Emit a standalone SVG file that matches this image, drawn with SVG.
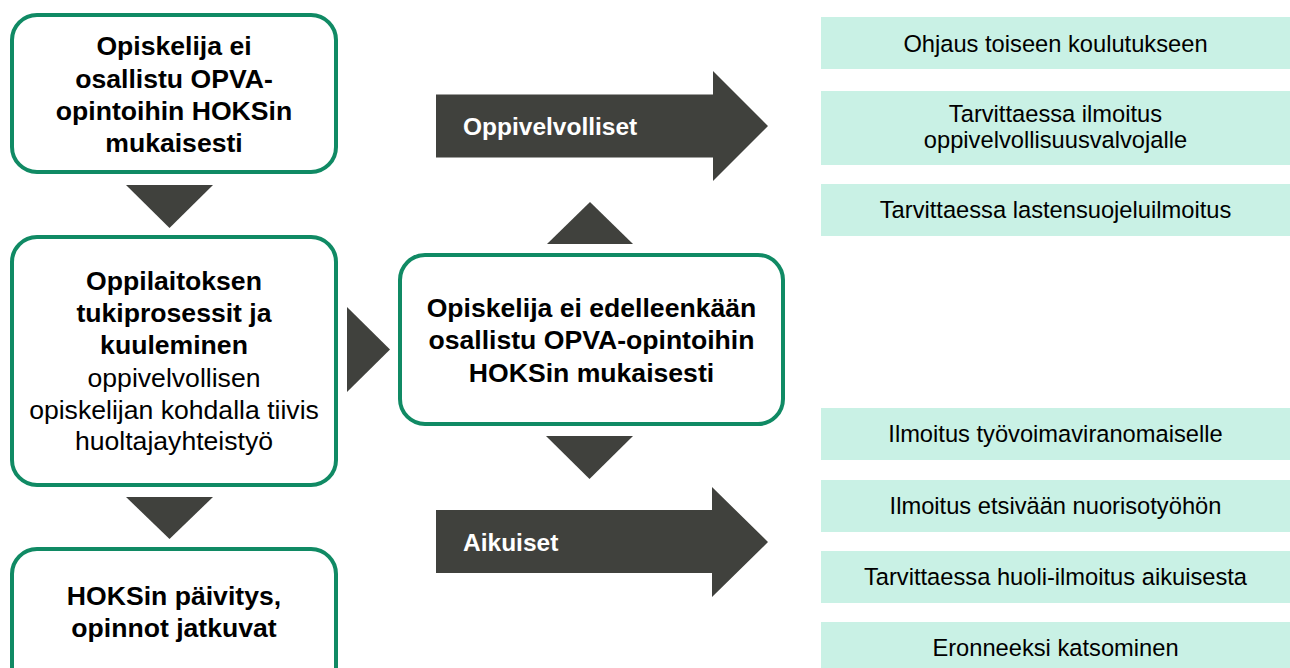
<svg xmlns="http://www.w3.org/2000/svg" width="1290" height="668" viewBox="0 0 1290 668">
<style>
.box{fill:#ffffff;stroke:#108A64;stroke-width:4}
.mint{fill:#C9F1E5}
.dark{fill:#40413D}
text{font-family:"Liberation Sans",Arial,sans-serif;text-anchor:middle;fill:#000000}
.b{font-weight:bold;font-size:26.6px}
.n{font-size:26.6px}
.r{font-size:23.7px}
.al{font-weight:bold;font-size:24.5px;fill:#ffffff;text-anchor:start}
</style>
<rect width="1290" height="668" fill="#ffffff"/>
<g id="connectors">
<polygon class="dark" points="126,185 213,185 169.5,228"/>
<polygon class="dark" points="126,497 213,497 169.5,539"/>
<polygon class="dark" points="347,307 390,349.5 347,392"/>
<polygon class="dark" points="547,244 633,244 590,202"/>
<polygon class="dark" points="546,436 633,436 589.5,479"/>
<g id="arrow-oppivelvolliset">
<polygon class="dark" points="436,94.5 713,94.5 713,71 768,126 713,181 713,157.5 436,157.5"/>
<text class="al" x="463" y="135">Oppivelvolliset</text>
</g>
<g id="arrow-aikuiset">
<polygon class="dark" points="436,510 712,510 712,487 768,542 712,597 712,573 436,573"/>
<text class="al" x="463" y="551">Aikuiset</text>
</g>
</g>
<g id="node-ei-osallistu">
<rect class="box" x="12" y="15" width="324" height="157" rx="25"/>
<text class="b" x="174" y="55">Opiskelija ei</text>
<text class="b" x="174" y="87.5">osallistu OPVA-</text>
<text class="b" x="174" y="119.5">opintoihin HOKSin</text>
<text class="b" x="174" y="152">mukaisesti</text>
</g>
<g id="node-tukiprosessit">
<rect class="box" x="12" y="237" width="324" height="248" rx="25"/>
<text class="b" x="174" y="290">Oppilaitoksen</text>
<text class="b" x="174" y="322">tukiprosessit ja</text>
<text class="b" x="174" y="354">kuuleminen</text>
<text class="n" x="174" y="387">oppivelvollisen</text>
<text class="n" x="174" y="418.5">opiskelijan kohdalla tiivis</text>
<text class="n" x="174" y="450">huoltajayhteistyö</text>
</g>
<g id="node-hoks-paivitys">
<rect class="box" x="12" y="549" width="324" height="150" rx="25"/>
<text class="b" x="174" y="605">HOKSin päivitys,</text>
<text class="b" x="174" y="637">opinnot jatkuvat</text>
</g>
<g id="node-ei-edelleenkaan">
<rect class="box" x="400" y="255" width="383" height="169" rx="25"/>
<text class="b" x="591.5" y="316.7">Opiskelija ei edelleenkään</text>
<text class="b" x="591.5" y="348.5">osallistu OPVA-opintoihin</text>
<text class="b" x="591.5" y="381.7">HOKSin mukaisesti</text>
</g>
<g id="node-ohjaus">
<rect class="mint" x="821" y="17" width="469" height="52"/>
<text class="r" x="1055.5" y="52">Ohjaus toiseen koulutukseen</text>
</g>
<g id="node-oppivelvollisuusvalvoja">
<rect class="mint" x="821" y="91" width="469" height="74"/>
<text class="r" x="1055.5" y="122">Tarvittaessa ilmoitus</text>
<text class="r" x="1055.5" y="148">oppivelvollisuusvalvojalle</text>
</g>
<g id="node-lastensuojelu">
<rect class="mint" x="821" y="184" width="469" height="52"/>
<text class="r" x="1055.5" y="218">Tarvittaessa lastensuojeluilmoitus</text>
</g>
<g id="node-tyovoima">
<rect class="mint" x="821" y="408" width="469" height="52"/>
<text class="r" x="1055.5" y="442">Ilmoitus työvoimaviranomaiselle</text>
</g>
<g id="node-etsiva">
<rect class="mint" x="821" y="480" width="469" height="52"/>
<text class="r" x="1055.5" y="514">Ilmoitus etsivään nuorisotyöhön</text>
</g>
<g id="node-huoli">
<rect class="mint" x="821" y="551" width="469" height="52"/>
<text class="r" x="1055.5" y="585">Tarvittaessa huoli-ilmoitus aikuisesta</text>
</g>
<g id="node-eronneeksi">
<rect class="mint" x="821" y="622" width="469" height="52"/>
<text class="r" x="1055.5" y="656">Eronneeksi katsominen</text>
</g>
</svg>
